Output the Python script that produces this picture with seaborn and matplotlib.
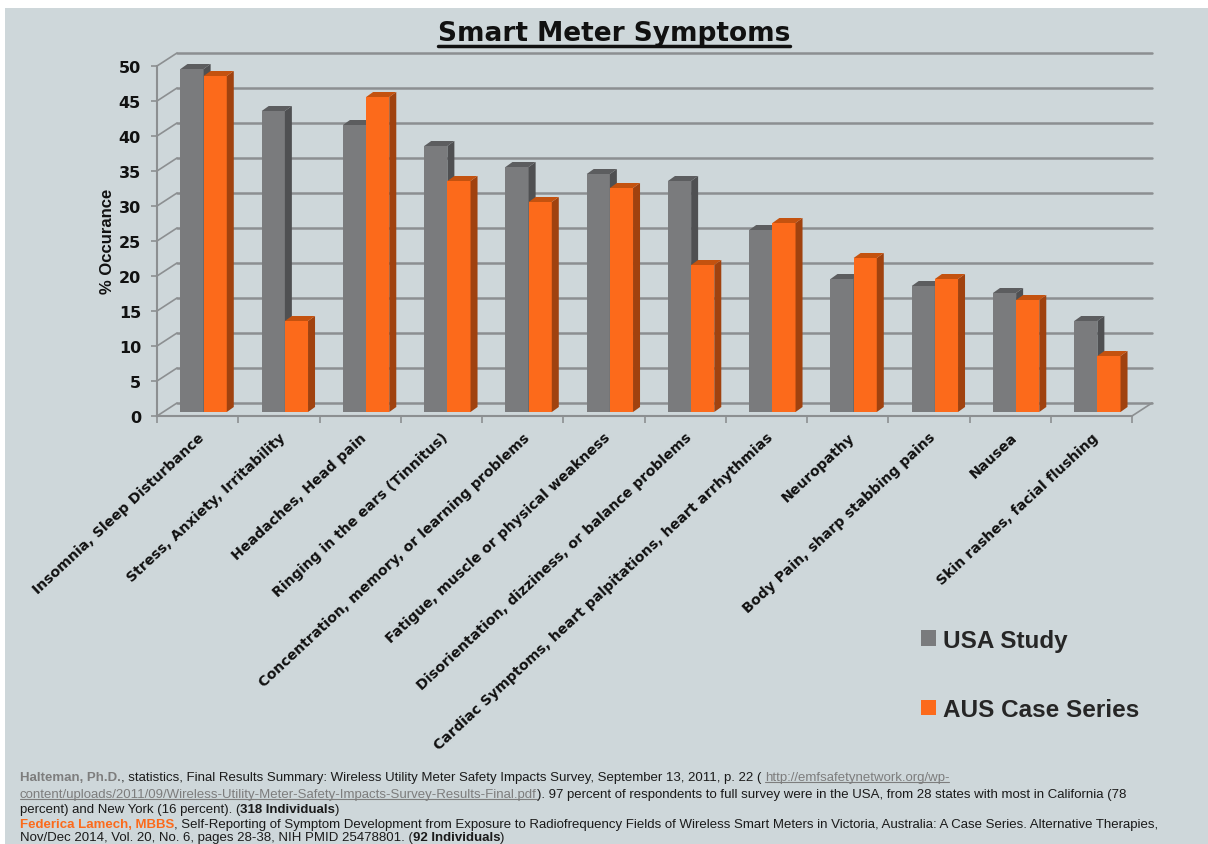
import numpy as np
import pandas as pd
import matplotlib
matplotlib.use('Agg')
import matplotlib.pyplot as plt
import seaborn as sns
from matplotlib.patches import Polygon, Rectangle
from matplotlib.transforms import ScaledTranslation
from matplotlib import font_manager

# data
symptoms = ['Insomnia, Sleep Disturbance', 'Stress, Anxiety, Irritability', 'Headaches, Head pain',
            'Ringing in the ears (Tinnitus)', 'Concentration, memory, or learning problems',
            'Fatigue, muscle or physical weakness', 'Disorientation, dizziness, or balance problems',
            'Cardiac Symptoms, heart palpitations, heart arrhythmias', 'Neuropathy',
            'Body Pain, sharp stabbing pains', 'Nausea', 'Skin rashes, facial flushing']
usa = [49, 43, 41, 38, 35, 34, 33, 26, 19, 18, 17, 13]
aus = [48, 13, 45, 33, 30, 32, 21, 27, 22, 19, 16, 8]
studies = ['USA Study', 'AUS Case Series']
yticks = [0, 5, 10, 15, 20, 25, 30, 35, 40, 45, 50]

df = pd.DataFrame({'symptom': symptoms * 2,
                   'pct': usa + aus,
                   'study': [studies[0]] * len(usa) + [studies[1]] * len(aus)})

BG = '#ced7da'
GRID = '#8c8f91'
GRAY = '#7a7b7d'
ORANGE = '#fc6a1b'
SIDE = {GRAY: '#4f5052', ORANGE: '#a0420f'}
TOP = {GRAY: '#5c5d5f', ORANGE: '#c4520f'}

sns.set_style('white')
plt.rcParams['font.family'] = ['DejaVu Sans']

names = {f.name for f in font_manager.fontManager.ttflist}
narrow = 'Liberation Sans Narrow' if 'Liberation Sans Narrow' in names else 'Liberation Sans'

W, H = 1208, 845
fig = plt.figure(figsize=(W / 100, H / 100), dpi=100)
fig.patch.set_facecolor('white')
fig.patches.append(Rectangle((5 / W, 0), 1 - 5 / W, 1 - 9 / H, transform=fig.transFigure,
                             facecolor=BG, edgecolor='none', zorder=-10))

ax = fig.add_axes([157 / W, 1 - 417 / H, 975 / W, 350 / H])
ax.set_facecolor('none')
sns.barplot(data=df, x='symptom', y='pct', hue='study', palette=[GRAY, ORANGE],
            width=0.57, saturation=1, ax=ax, linewidth=0)
handles, labels = ax.get_legend_handles_labels()
if ax.legend_ is not None:
    ax.legend_.remove()

ax.set_xlim(-0.5, 11.5)
ax.set_ylim(0, 50)
px_x = 975 / 12
px_y = 350 / 50

# back wall grid (pseudo 3d)
bx, by = 20 / px_x, 13 / px_y
for yt in yticks:
    ax.plot([-0.5 + bx, 11.5 + bx], [yt + by, yt + by], color=GRID, lw=1.8, clip_on=False, zorder=1)
    ax.plot([-0.5, -0.5 + bx], [yt, yt + by], color=GRID, lw=1.2, clip_on=False, zorder=1)
ax.plot([11.5, 11.5 + bx], [0, by], color=GRID, lw=1.2, clip_on=False, zorder=1)

# extrude the bars
off = ax.transData + ScaledTranslation(6 / 100, 4 / 100, fig.dpi_scale_trans)
ddx, ddy = 7 / px_x, 5 / px_y
bars = [p for p in ax.patches]
for p in bars:
    x0, w, h = p.get_x(), p.get_width(), p.get_height()
    x1 = x0 + w
    col = GRAY if np.allclose(p.get_facecolor()[:3], matplotlib.colors.to_rgb(GRAY), atol=0.02) else ORANGE
    z = 3 if col == GRAY else 4
    p.set_transform(off)
    p.set_zorder(z)
    ax.add_patch(Polygon([(x1, 0), (x1 + ddx, ddy), (x1 + ddx, h + ddy), (x1, h)],
                         closed=True, facecolor=SIDE[col], edgecolor='none', transform=off, zorder=z, clip_on=False))
    ax.add_patch(Polygon([(x0, h), (x1, h), (x1 + ddx, h + ddy), (x0 + ddx, h + ddy)],
                         closed=True, facecolor=TOP[col], edgecolor='none', transform=off, zorder=z, clip_on=False))

for s in ['top', 'right']:
    ax.spines[s].set_visible(False)
for s in ['left', 'bottom']:
    ax.spines[s].set_color(GRID)
    ax.spines[s].set_linewidth(1.5)
    ax.spines[s].set_zorder(2)

ax.set_yticks(yticks)
ax.set_yticklabels([str(v) for v in yticks], fontsize=11.5, fontweight='bold', color='#111111')
ax.tick_params(axis='y', length=4.5, width=1.2, color=GRID, pad=7, left=True)
ax.set_xticks(range(len(symptoms)))
ax.set_xticks(np.arange(-0.5, len(symptoms), 1), minor=True)
ax.tick_params(axis='x', which='major', length=0, pad=10)
ax.tick_params(axis='x', which='minor', length=5, width=1.2, color=GRID, bottom=True)
ax.set_xticklabels(symptoms, rotation=43, ha='right', rotation_mode='anchor',
                   fontsize=10.2, fontweight='bold', color='#111111')
ax.set_xlabel('')
ax.set_ylabel('% Occurance', fontsize=12, fontweight='bold', family='Liberation Sans', color='#111111')
ax.yaxis.set_label_coords((115 - 157) / 975, (417 - 241) / 350)

fig.legend(handles, labels, loc='center left', bbox_to_anchor=(899 / W, 1 - 676 / H), frameon=False,
           prop={'family': 'Liberation Sans', 'weight': 'bold', 'size': 17.5},
           handlelength=0.62, handleheight=0.62, handletextpad=0.3, labelspacing=1.9)

title = fig.text(614 / W, 1 - 34 / H, 'Smart Meter Symptoms', ha='center', va='center',
                 fontsize=19, fontweight='bold', color='#111111')

fig.canvas.draw()
r = fig.canvas.get_renderer()
tb = title.get_window_extent(r)
fig.add_artist(plt.Line2D([tb.x0 / W, tb.x1 / W], [1 - 47 / H, 1 - 47 / H], transform=fig.transFigure,
                          color='#111111', lw=2.5))

# footer references
FS = 9.5
DARK = '#1a1a1a'
MUTE = '#7d7d7d'
REF = '#fc6a1b'


def width(s, **kw):
    t1 = fig.text(0, 0, s + 'x', fontsize=FS, family=narrow, **kw)
    t2 = fig.text(0, 0, 'x', fontsize=FS, family=narrow, **kw)
    w = t1.get_window_extent(r).width - t2.get_window_extent(r).width
    t1.remove()
    t2.remove()
    return w


def put_line(ybase, runs):
    x = 20
    for s, col, bold, under in runs:
        kw = {'fontweight': 'bold' if bold else 'normal'}
        fig.text(x / W, 1 - ybase / H, s, fontsize=FS, family=narrow, color=col, va='baseline', **kw)
        w = width(s, **kw)
        if under:
            fig.add_artist(plt.Line2D([x / W, (x + w) / W], [1 - (ybase + 2) / H] * 2,
                                      transform=fig.transFigure, color=col, lw=0.8))
        x += w


put_line(781, [('Halteman, Ph.D.', MUTE, True, False),
               (', statistics, Final Results Summary: Wireless Utility Meter Safety Impacts Survey, September 13, 2011, p. 22 ( ', DARK, False, False),
               ('http://emfsafetynetwork.org/wp-', MUTE, False, True)])
put_line(798, [('content/uploads/2011/09/Wireless-Utility-Meter-Safety-Impacts-Survey-Results-Final.pdf', MUTE, False, True),
               ('). 97 percent of respondents to full survey were in the USA, from 28 states with most in California (78', DARK, False, False)])
put_line(813, [('percent) and New York (16 percent). (', DARK, False, False),
               ('318 Individuals', DARK, True, False),
               (')', DARK, False, False)])
put_line(828, [('Federica Lamech, MBBS', REF, True, False),
               (', Self-Reporting of Symptom Development from Exposure to Radiofrequency Fields of Wireless Smart Meters in Victoria, Australia: A Case Series. Alternative Therapies,', DARK, False, False)])
put_line(841, [('Nov/Dec 2014, Vol. 20, No. 6, pages 28-38, NIH PMID 25478801. (', DARK, False, False),
               ('92 Individuals', DARK, True, False),
               (')', DARK, False, False)])

fig.savefig('out.png', dpi=100, facecolor=fig.get_facecolor())
